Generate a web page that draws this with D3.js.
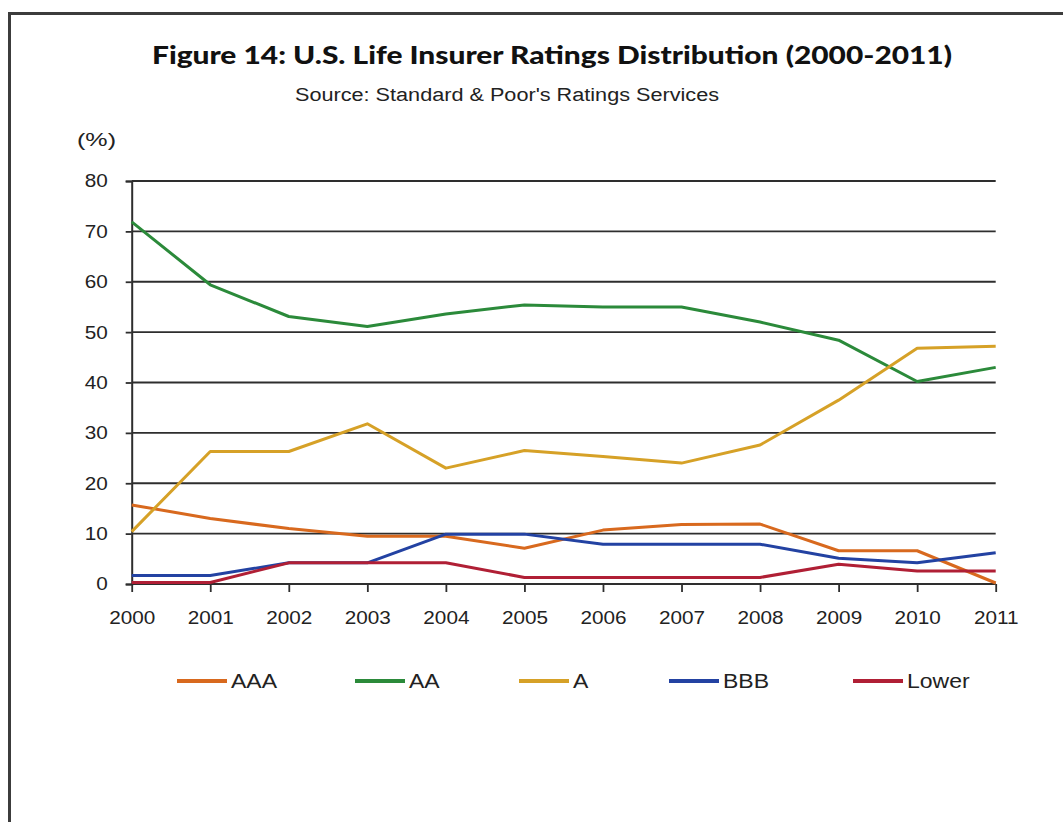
<!DOCTYPE html>
<html><head><meta charset="utf-8">
<script src="https://cdn.jsdelivr.net/npm/d3@7"></script>
<style>body{margin:0;background:#fff} svg{display:block}</style>
</head><body><svg id="c" width="1063" height="822"></svg>
<script>
// ---- data ----
const years = [2000,2001,2002,2003,2004,2005,2006,2007,2008,2009,2010,2011];
const aaa   = [15.7,13.0,11.0,9.5,9.5,7.1,10.7,11.8,11.9,6.6,6.6,0.2];
const aa    = [71.9,59.4,53.1,51.1,53.6,55.4,55.0,55.0,52.0,48.4,40.2,43.0];
const a     = [10.4,26.3,26.3,31.8,23.0,26.5,25.3,24.0,27.6,36.5,46.8,47.2];
const bbb   = [1.7,1.7,4.2,4.2,9.9,9.9,7.9,7.9,7.9,5.1,4.2,6.2];
const lower = [0.3,0.3,4.2,4.2,4.2,1.3,1.3,1.3,1.3,3.9,2.6,2.6];
const seriesNames = ["AAA","AA","A","BBB","Lower"];
const seriesValues = [aaa, aa, a, bbb, lower];
const seriesColors = ["#D8691E","#2B8A3A","#D6A127","#2342A2","#B01F35"];
const yTicks = [0,10,20,30,40,50,60,70,80];
const titleText = "Figure 14: U.S. Life Insurer Ratings Distribution (2000-2011)";
const subtitleText = "Source: Standard & Poor's Ratings Services";
const unitText = "(%)";

// ---- layout ----
const svg = d3.select("#c");
const X0 = 131.7, X1 = 995.7, Y0 = 584, Y1 = 181;
const x = d3.scaleLinear().domain([2000, 2011]).range([X0, X1]);
const y = d3.scaleLinear().domain([0, 80]).range([Y0, Y1]);
const FONT = "'Liberation Sans', Arial, sans-serif";

function stretch(sel, k) {
  sel.each(function() {
    const w = this.getComputedTextLength();
    d3.select(this).attr("textLength", w * k).attr("lengthAdjust", "spacingAndGlyphs");
  });
}

// frame
svg.append("path").attr("d", "M9.5,822 V13.5 H1063")
  .attr("fill", "none").attr("stroke", "#3c3c3c").attr("stroke-width", 3);

// title
svg.append("text").attr("x", 152).attr("y", 63.5)
  .attr("font-family", "Lato, 'Open Sans', sans-serif").attr("font-weight", "900")
  .attr("font-size", 24).attr("fill", "#111")
  .attr("textLength", 800).attr("lengthAdjust", "spacingAndGlyphs")
  .text(titleText);
svg.append("text").attr("x", 295).attr("y", 101)
  .attr("font-family", FONT).attr("font-size", 18).attr("fill", "#222")
  .attr("textLength", 424).attr("lengthAdjust", "spacingAndGlyphs")
  .text(subtitleText);
svg.append("text").attr("x", 77).attr("y", 146)
  .attr("font-family", FONT).attr("font-size", 18).attr("fill", "#222")
  .attr("textLength", 39).attr("lengthAdjust", "spacingAndGlyphs")
  .text(unitText);

// gridlines
svg.append("g").selectAll("line").data(yTicks).join("line")
  .attr("x1", X0).attr("x2", X1)
  .attr("y1", d => y(d)).attr("y2", d => y(d))
  .attr("stroke", "#2e2e2e").attr("stroke-width", 1.8);

// y axis
const gy = svg.append("g").attr("transform", `translate(${X0},0)`)
  .call(d3.axisLeft(y).tickValues(yTicks).tickSize(6).tickPadding(18).tickFormat(d3.format("d")));
gy.select(".domain").attr("stroke", "#2e2e2e").attr("stroke-width", 2);
gy.selectAll(".tick line").attr("stroke", "#2e2e2e").attr("stroke-width", 1.8);
gy.selectAll(".tick text").attr("font-family", FONT).attr("font-size", 18.5).attr("fill", "#222");
stretch(gy.selectAll(".tick text"), 1.12);

// x axis
const gx = svg.append("g").attr("transform", `translate(0,${Y0})`)
  .call(d3.axisBottom(x).tickValues(years).tickSize(8).tickPadding(19).tickFormat(d3.format("d")));
gx.select(".domain").remove();
gx.selectAll(".tick line").attr("stroke", "#2e2e2e").attr("stroke-width", 1.8);
gx.selectAll(".tick text").attr("font-family", FONT).attr("font-size", 18.5).attr("fill", "#222");
stretch(gx.selectAll(".tick text"), 1.12);

// lines
const line = d3.line().x((d, i) => x(years[i])).y(d => y(d)).curve(d3.curveLinear);
svg.append("g").selectAll("path").data(seriesValues).join("path")
  .attr("d", d => line(d))
  .attr("fill", "none")
  .attr("stroke", (d, i) => seriesColors[i])
  .attr("stroke-width", 3)
  .attr("stroke-linejoin", "round");

// legend
const legendX = [177, 355, 519, 669, 853];
const lg = svg.append("g").selectAll("g").data(seriesNames).join("g")
  .attr("transform", (d, i) => `translate(${legendX[i]},681)`);
lg.append("line").attr("x1", 0).attr("x2", 50).attr("y1", 0).attr("y2", 0)
  .attr("stroke", (d, i) => seriesColors[i]).attr("stroke-width", 4);
const lt = lg.append("text").attr("x", 54).attr("y", 7)
  .attr("font-family", FONT).attr("font-size", 19.5).attr("fill", "#222")
  .text(d => d);
stretch(lt, 1.18);
</script>
</body></html>
